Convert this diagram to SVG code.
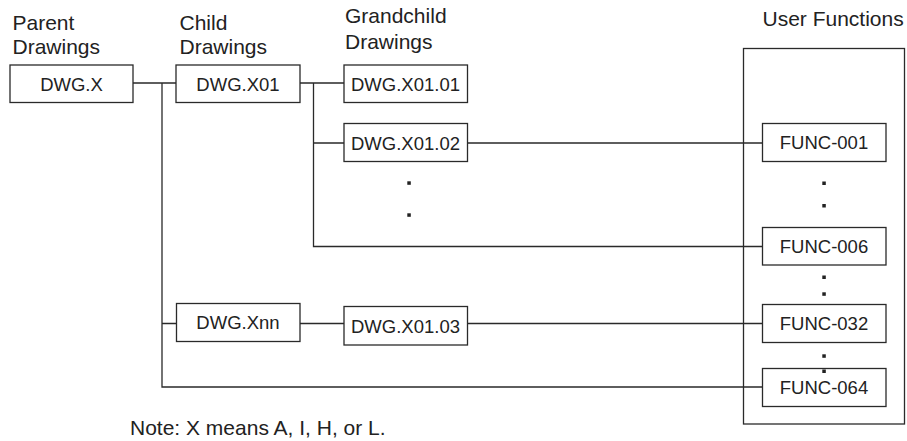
<svg xmlns="http://www.w3.org/2000/svg" width="907" height="441" viewBox="0 0 907 441">
<style>
.box{fill:#fff;stroke:#2a2a2a;stroke-width:1.3}
.ln{fill:none;stroke:#2a2a2a;stroke-width:1.3}
.hd{font-family:"Liberation Sans",Arial,sans-serif;font-size:21px;fill:#222}
.bt{font-family:"Liberation Sans",Arial,sans-serif;font-size:18.5px;fill:#222;text-anchor:middle}
.dot{fill:#222}
</style>
<rect width="907" height="441" fill="#fff"/>
<g id="headers">
<text class="hd" x="12.5" y="29.5">Parent</text>
<text class="hd" x="12.5" y="54">Drawings</text>
<text class="hd" x="179.5" y="29.5">Child</text>
<text class="hd" x="179.5" y="54">Drawings</text>
<text class="hd" x="345" y="23">Grandchild</text>
<text class="hd" x="345" y="48.5">Drawings</text>
<text class="hd" x="762.5" y="26">User Functions</text>
<text class="hd" x="130" y="435">Note: X means A, I, H, or L.</text>
</g>
<g id="user-functions-frame"><rect class="box" x="743.5" y="48.5" width="161" height="375.5"/></g>
<g id="connectors">
<path class="ln" d="M133 83H176M162 83V387H762.5M162 323.5H176.5"/>
<path class="ln" d="M300 83H344M313.5 83V246.5H762.5M313.5 143H344M467.5 143H762.5"/>
<path class="ln" d="M300 323.5H344M467.5 323.5H762.5"/>
</g>
<g id="dwg-x"><rect class="box" x="10" y="65" width="123" height="37.5"/><text class="bt" x="71.5" y="90.5">DWG.X</text></g>
<g id="dwg-x01"><rect class="box" x="176" y="65" width="124" height="37.5"/><text class="bt" x="238" y="90.5">DWG.X01</text></g>
<g id="dwg-x01-01"><rect class="box" x="344" y="65" width="123.5" height="37.5"/><text class="bt" x="405.5" y="90.5">DWG.X01.01</text></g>
<g id="dwg-x01-02"><rect class="box" x="344" y="123.5" width="123.5" height="38"/><text class="bt" x="405.5" y="149.5">DWG.X01.02</text></g>
<g id="dwg-xnn"><rect class="box" x="176.5" y="303.5" width="123.5" height="38"/><text class="bt" x="238" y="329">DWG.Xnn</text></g>
<g id="dwg-x01-03"><rect class="box" x="344" y="306.5" width="123.5" height="38.5"/><text class="bt" x="405.5" y="332.5">DWG.X01.03</text></g>
<g id="func-001"><rect class="box" x="762.5" y="123.5" width="123.5" height="38"/><text class="bt" x="824" y="149">FUNC-001</text></g>
<g id="func-006"><rect class="box" x="762.5" y="227.5" width="123.5" height="37.5"/><text class="bt" x="824" y="253">FUNC-006</text></g>
<g id="func-032"><rect class="box" x="762.5" y="304.5" width="123.5" height="38"/><text class="bt" x="824" y="330">FUNC-032</text></g>
<g id="func-064"><rect class="box" x="762.5" y="368.5" width="123.5" height="38"/><text class="bt" x="824" y="394">FUNC-064</text></g>
<g id="ellipses">
<rect class="dot" x="407.3" y="181.3" width="3.5" height="3.5"/>
<rect class="dot" x="407.3" y="213.3" width="3.5" height="3.5"/>
<rect class="dot" x="822.3" y="181.5" width="3.5" height="3.5"/>
<rect class="dot" x="822.3" y="204" width="3.5" height="3.5"/>
<rect class="dot" x="822.3" y="275.5" width="3.5" height="3.5"/>
<rect class="dot" x="822.3" y="292.3" width="3.5" height="3.5"/>
<rect class="dot" x="822.3" y="354.3" width="3.5" height="3.5"/>
<rect class="dot" x="822.3" y="369.5" width="3.5" height="3.5"/>
</g>
</svg>
